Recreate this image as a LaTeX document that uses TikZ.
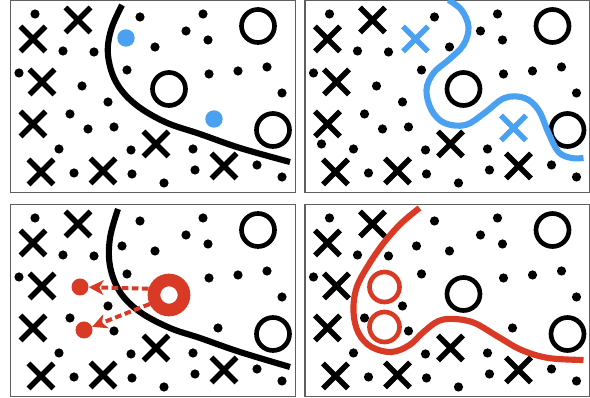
\documentclass[tikz,border=0pt]{standalone}
\usetikzlibrary{arrows.meta}
\definecolor{PointBlue}{RGB}{74,161,242}
\definecolor{PointRed}{RGB}{217,58,38}
\definecolor{FrameGray}{RGB}{95,95,95}

% points shared by all four panels (pixel grid, y down)
\def\dotlist{35/14,63/51,94/52,140/17,186/31,203/14,208/40,155/47,19/73,127/70,209/74,238/71,267/67,282/93,108/102,70/114,114/127,59/149,131/150,193/149,74/173,132/174,164/183,195/170,257/165,282/177}
\def\crosslist{33/39,78/20,42/82,33/124,41/172,103/171,156/144,224/166}

\begin{document}
\begin{tikzpicture}[x=0.75pt,y=-0.75pt,>=Stealth,
      frame/.style={draw=FrameGray,line width=0.8pt},
      xline/.style={line width=4pt},
      hollow/.style={line width=3.5pt},
      bound/.style={line width=4.6pt},
      ringnode/.style={circle,draw=PointRed,line width=9.5pt,minimum size=22.5pt,inner sep=0pt},
      reddot/.style={circle,fill=PointRed,minimum size=12.75pt,inner sep=0pt},
      shiftarrow/.style={->,draw=PointRed,line width=3pt,dash pattern=on 5pt off 2.6pt,
                         arrows={-Stealth[length=11pt,width=11pt,inset=3pt]}}]
    \useasboundingbox (0,0) rectangle (590,398);
    % four panels: top left, top right, bottom left, bottom right
    \foreach \sx/\sy in {0/0,294.5/0,0/204,294.5/204} {
      \begin{scope}[shift={(\sx,\sy)}]
        \draw[frame] (10.5,0.4) rectangle (295.5,192.6);
        \foreach \x/\y in \dotlist \fill (\x,\y) circle[radius=4.6];
        \foreach \x/\y in \crosslist
          \draw[xline] (\x-12.5,\y-12.5) -- (\x+12.5,\y+12.5) (\x-12.5,\y+12.5) -- (\x+12.5,\y-12.5);
        \draw[hollow] (258,26) circle[radius=16.5] (273,130) circle[radius=16.5];
      \end{scope}
    }
    % top left: plain boundary, two new points
    \draw[hollow] (169,89) circle[radius=16.5];
    \fill (82,86) circle[radius=4.6] (88,129) circle[radius=4.6];
    \fill[PointBlue] (126,38) circle[radius=8.7] (214,119) circle[radius=8.7];
    \draw[bound] plot[smooth,tension=0.6] coordinates {(122,5) (111,30) (108,55) (116,82) (135,104) (165,122) (200,134) (240,148) (290,162)};
    % top right: wiggly boundary
    \begin{scope}[shift={(294.5,0)}]
      \draw[hollow] (169,89) circle[radius=16.5];
      \fill (82,86) circle[radius=4.6] (88,129) circle[radius=4.6] (27,144) circle[radius=4.6];
      \foreach \x/\y in {121/39,219/128}
        \draw[xline,PointBlue] (\x-12.5,\y-12.5) -- (\x+12.5,\y+12.5) (\x-12.5,\y+12.5) -- (\x+12.5,\y-12.5);
      \draw[bound,PointBlue] plot[smooth,tension=0.6] coordinates {(154,0) (167,10) (174,27) (169,45) (154,60) (139,73) (132,90) (137,110) (150,123) (171,125) (190,113) (210,98) (230,98) (244,110) (254,133) (264,152) (277,158) (289,158)};
    \end{scope}
    % bottom left: moved points
    \begin{scope}[shift={(0,204)}]
      \fill (122,42) circle[radius=4.6] (218,124) circle[radius=4.6];
      \draw[bound] plot[smooth,tension=0.6] coordinates {(118,5) (110,34) (110,62) (120,88) (140,108) (170,124) (200,134) (240,148) (290,163)};
      \node[ringnode] (ring) at (169,91) {};
      \node[reddot] (moveA) at (80,83) {};
      \node[reddot] (moveB) at (84,126) {};
      \draw[shiftarrow] (ring.163) -- (moveA);
      \draw[shiftarrow] (ring.205) -- (moveB);
    \end{scope}
    % bottom right: boundary around the new circles
    \begin{scope}[shift={(294.5,204)}]
      \draw[hollow] (169,90) circle[radius=16.5];
      \fill (122,42) circle[radius=4.6] (218,124) circle[radius=4.6];
      \draw[hollow,PointRed] (90,83) circle[radius=15] (90,123) circle[radius=15];
      \draw[bound,PointRed] plot[smooth,tension=0.6] coordinates {(125,4) (107,19) (90,38) (74,61) (62,84) (59,108) (64,129) (77,143) (97,148) (115,141) (129,128) (144,117) (160,115) (180,119) (204,133) (227,146) (254,154) (289,156)};
    \end{scope}
  \end{tikzpicture}
\end{document}
